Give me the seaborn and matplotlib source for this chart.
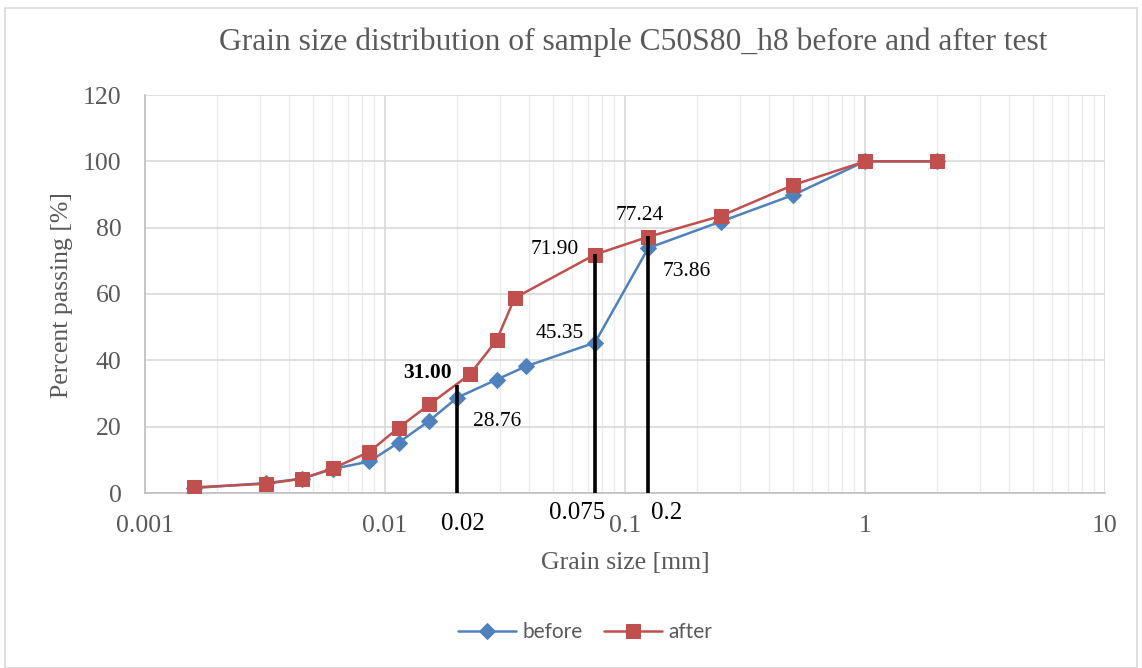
import numpy as np
import pandas as pd
import matplotlib
matplotlib.use("Agg")
import matplotlib.pyplot as plt
import seaborn as sns
from matplotlib.patches import Rectangle

# ---------------- data ----------------
before_size = [0.0016, 0.0032, 0.0045, 0.0061, 0.0086, 0.0114, 0.0153, 0.020, 0.0292, 0.0387, 0.075, 0.125, 0.25, 0.5, 1.0, 2.0]
before_pass = [1.5, 3.0, 4.3, 7.3, 9.5, 15.2, 21.8, 28.76, 34.2, 38.2, 45.35, 73.86, 81.8, 89.8, 100.0, 100.0]
after_size = [0.0016, 0.0032, 0.0045, 0.0061, 0.0086, 0.0114, 0.0153, 0.0226, 0.0292, 0.0347, 0.075, 0.125, 0.25, 0.5, 1.0, 2.0]
after_pass = [1.7, 2.8, 4.3, 7.5, 12.4, 19.7, 26.7, 35.8, 46.1, 58.8, 71.90, 77.24, 83.5, 92.8, 100.0, 100.0]

marker_x = [0.02, 0.075, 0.125]
marker_h = [32.7, 72.0, 77.6]
marker_lbl = ["0.02", "0.075", "0.2"]

annot_text = ["31.00", "28.76", "45.35", "71.90", "77.24", "73.86"]

title = "Grain size distribution of sample C50S80_h8 before and after test"
xlabel = "Grain size [mm]"
ylabel = "Percent passing [%]"

# ---------------- plot ----------------
sns.set_theme(style="white")
plt.rcParams['font.family'] = ['Liberation Serif', 'DejaVu Serif']

W, H = 1142, 668
fig = plt.figure(figsize=(W / 100, H / 100), dpi=100)
ax = fig.add_axes([145 / W, 1 - 493 / H, (1105 - 145) / W, (493 - 95) / H])

blue = "#4F81BD"
red = "#C0504D"
gray_txt = "#595959"

df_b = pd.DataFrame({"size": before_size, "pass": before_pass})
df_a = pd.DataFrame({"size": after_size, "pass": after_pass})

sns.lineplot(data=df_b, x="size", y="pass", ax=ax, color=blue, marker="D",
             markersize=8, markeredgecolor=blue, linewidth=1.8, sort=False,
             label="before", zorder=3)
sns.lineplot(data=df_a, x="size", y="pass", ax=ax, color=red, marker="s",
             markersize=9.5, markeredgecolor=red, linewidth=1.8, sort=False,
             label="after", zorder=4)

ax.set_xscale("log")
ax.set_xlim(0.001, 10)
ax.set_ylim(0, 120)
ax.set_yticks(np.arange(0, 121, 20))

# grid
ax.grid(True, which="major", axis="both", color="#d9d9d9", linewidth=1.2)
ax.grid(True, which="minor", axis="x", color="#ececec", linewidth=1.0)
ax.set_axisbelow(True)
for s in ["top", "right"]:
    ax.spines[s].set_visible(False)
for s in ["left", "bottom"]:
    ax.spines[s].set_color("#bfbfbf")
    ax.spines[s].set_linewidth(1.2)
ax.tick_params(axis="both", which="both", length=0, colors=gray_txt, labelsize=18.5)
ax.xaxis.set_major_formatter(matplotlib.ticker.FuncFormatter(lambda v, p: f"{v:g}"))
ax.tick_params(axis="x", pad=16)
ax.tick_params(axis="y", pad=17)

# vertical black marker lines
ax.vlines(marker_x, 0, marker_h, colors="black", linewidth=2.6, zorder=5)

# annotations (positions in figure pixels)
annot_pos = [(428, 373), (497, 422), (560, 333), (555, 250), (640, 215), (687, 271)]
for i, (txt, (px, py)) in enumerate(zip(annot_text, annot_pos)):
    fig.text(px / W, 1 - py / H, txt, ha="center", va="center", fontsize=15.5,
             color="black", fontweight="bold" if i == 0 else "normal", zorder=6)

# extra x labels under the marker lines
lbl_pos = [(463, 524), (577, 513), (667, 513)]
for lbl, (px, py) in zip(marker_lbl, lbl_pos):
    fig.text(px / W, 1 - py / H, lbl, ha="center", va="center", fontsize=18, color="black")

ax.set_xlabel(xlabel, fontsize=18.5, color=gray_txt)
ax.xaxis.label.set_va("center")
ax.xaxis.set_label_coords(0.5, (493 - 563) / 398)
ax.set_ylabel(ylabel, fontsize=18.5, color=gray_txt)
ax.yaxis.label.set_va("center")
ax.yaxis.set_label_coords((62 - 145) / 960, (493 - 295) / 398)
fig.text(633 / W, 1 - 42 / H, title, ha="center", va="center", fontsize=22.7, color=gray_txt)

# legend
ax.get_legend().remove()
handles, labels = ax.get_legend_handles_labels()
leg = fig.legend(handles, labels, loc="center", bbox_to_anchor=(585 / W, 1 - 632 / H),
                 ncol=2, frameon=False, handlelength=2.8, columnspacing=1.0, handletextpad=0.3,
                 prop={"family": ["Lato", "DejaVu Sans"], "size": 15})
for t in leg.get_texts():
    t.set_color(gray_txt)

# outer chart frame
fig.patches.append(Rectangle((5 / W, 0), (1137 - 5) / W, (668 - 8) / H, transform=fig.transFigure,
                             fill=False, edgecolor="#d9d9d9", linewidth=1.2))

fig.savefig("out.png", dpi=100)
